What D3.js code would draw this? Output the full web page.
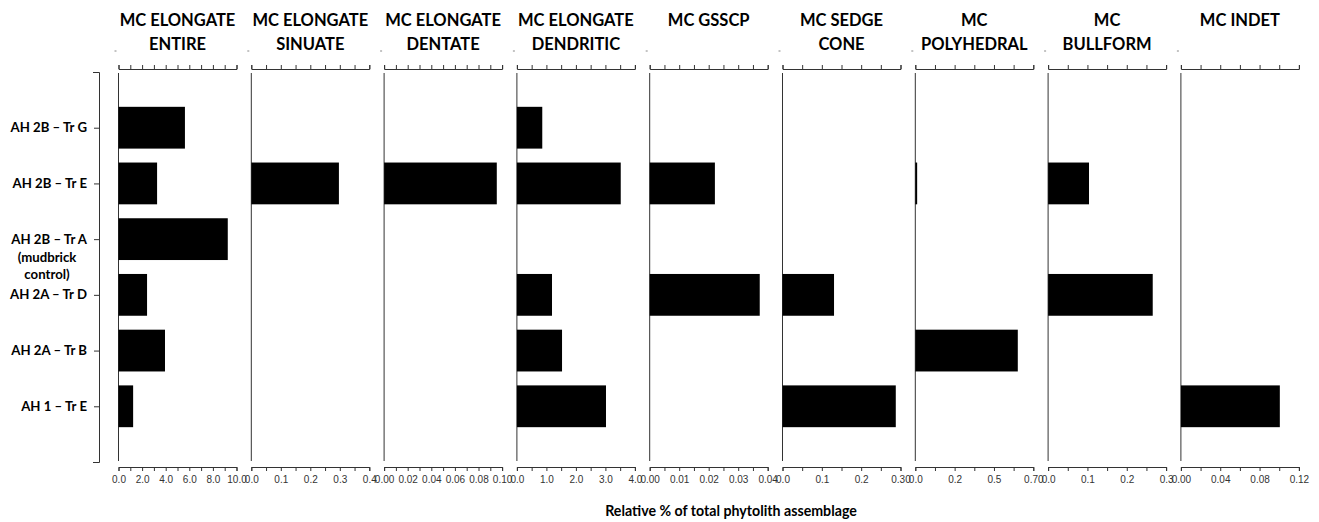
<!DOCTYPE html>
<html>
<head>
<meta charset="utf-8">
<script src="https://cdn.jsdelivr.net/npm/d3@7"></script>
<style>
  html, body { margin: 0; padding: 0; background: #fff; }
  svg { display: block; }
  .panel-title { font-family: Lato, "Open Sans", sans-serif; font-weight: 700; font-size: 16.5px; fill: #000; }
  .sample-label { font-family: Lato, "Open Sans", sans-serif; font-weight: 700; font-size: 13.2px; fill: #000; }
  .axis-title { font-family: Lato, "Open Sans", sans-serif; font-weight: 700; font-size: 14.2px; fill: #000; }
  .tick text { font-family: "Liberation Sans", Arial, sans-serif; font-size: 10px; fill: #333; }
  .domain, .tick line { stroke: #333; stroke-width: 1; }
</style>
</head>
<body>
<svg id="chart" width="1319" height="522"></svg>
<script>
// Samples (rows, top to bottom)
const samples = ["AH 2B – Tr G", "AH 2B – Tr E", "AH 2B – Tr A", "AH 2A – Tr D", "AH 2A – Tr B", "AH 1 – Tr E"];
const sampleNotes = ["", "", "(mudbrick|control)", "", "", ""];

// Phytolith morphotypes (one panel each)
const panelTitles = [
  ["MC ELONGATE", "ENTIRE"],
  ["MC ELONGATE", "SINUATE"],
  ["MC ELONGATE", "DENTATE"],
  ["MC ELONGATE", "DENDRITIC"],
  ["MC GSSCP"],
  ["MC SEDGE", "CONE"],
  ["MC", "POLYHEDRAL"],
  ["MC", "BULLFORM"],
  ["MC INDET"]
];

// Relative % of total phytolith assemblage, per sample (null = absent)
const elongateEntire    = [5.63, 3.27, 9.26, 2.42, 3.94, 1.24];
const elongateSinuate   = [null, 0.297, null, null, null, null];
const elongateDentate   = [null, 0.0955, null, null, null, null];
const elongateDendritic = [0.86, 3.52, null, 1.19, 1.53, 3.02];
const gsscp             = [null, 0.0221, null, 0.0373, null, null];
const sedgeCone         = [null, null, null, 0.131, null, 0.288];
const polyhedral        = [null, 0.011, null, null, 0.608, null];
const bullform          = [null, 0.104, null, 0.266, null, null];
const indet             = [null, null, null, null, null, 0.1006];

const panelValues = [elongateEntire, elongateSinuate, elongateDentate, elongateDendritic,
                     gsscp, sedgeCone, polyhedral, bullform, indet];

// Axis maxima, number of tick intervals, and labels shown on every other tick
const axisMax    = [10, 0.4, 0.10, 4, 0.04, 0.3, 0.7, 0.3, 0.12];
const tickSteps  = [10, 8, 10, 8, 8, 6, 6, 6, 6];
const tickLabels = [
  ["0.0", "2.0", "4.0", "6.0", "8.0", "10.0"],
  ["0.0", "0.1", "0.2", "0.3", "0.4"],
  ["0.00", "0.02", "0.04", "0.06", "0.08", "0.10"],
  ["0.0", "1.0", "2.0", "3.0", "4.0"],
  ["0.00", "0.01", "0.02", "0.03", "0.04"],
  ["0.0", "0.1", "0.2", "0.30"],
  ["0.0", "0.2", "0.5", "0.70"],
  ["0.0", "0.1", "0.2", "0.3"],
  ["0.00", "0.04", "0.08", "0.12"]
];

const svg = d3.select("#chart");

// Layout
const firstPanelX = 118.5;
const panelStep = 132.8;
const panelWidth = 118;
const plotTop = 72, plotBottom = 462;
const topAxisY = 69, bottomAxisY = 467;

const y = d3.scalePoint().domain(samples).range([plotTop, plotBottom]).padding(1);
const barH = y.step() * 0.75;

// Sample axis (left bracket)
svg.append("g").attr("transform", "translate(99,0)")
  .call(d3.axisLeft(y).tickSize(5).tickSizeOuter(6).tickFormat(""));

samples.forEach((s, i) => {
  const cy = y(s);
  svg.append("text").attr("class", "sample-label")
    .attr("x", 87).attr("y", cy).attr("dy", "0.35em")
    .attr("text-anchor", "end").text(s);
  if (sampleNotes[i]) {
    sampleNotes[i].split("|").forEach((line, k) => {
      svg.append("text").attr("class", "sample-label")
        .attr("x", 47).attr("y", cy + 18 + k * 17).attr("dy", "0.35em")
        .attr("text-anchor", "middle").text(line);
    });
  }
});

panelTitles.forEach((title, p) => {
  const x0 = firstPanelX + p * panelStep;
  const x = d3.scaleLinear().domain([0, axisMax[p]]).range([x0, x0 + panelWidth]);
  const ticks = d3.range(tickSteps[p] + 1).map(k => axisMax[p] * k / tickSteps[p]);
  const g = svg.append("g");

  // Title
  title.forEach((line, k) => {
    g.append("text").attr("class", "panel-title")
      .attr("x", x0 + panelWidth / 2).attr("y", 20 + k * 24).attr("dy", "0.35em")
      .attr("text-anchor", "middle").text(line);
  });

  // Small marker left of the top axis
  g.append("line")
    .attr("x1", x0 - 4).attr("x2", x0 - 2)
    .attr("y1", 51).attr("y2", 51)
    .attr("stroke", "#888").attr("stroke-width", 1);

  // Top axis (ticks only)
  g.append("g").attr("transform", `translate(0,${topAxisY})`)
    .call(d3.axisTop(x).tickValues(ticks).tickSize(4).tickSizeOuter(4).tickFormat(""));

  // Bottom axis with labels on alternate ticks
  g.append("g").attr("transform", `translate(0,${bottomAxisY})`)
    .call(d3.axisBottom(x).tickValues(ticks).tickSize(4).tickSizeOuter(4).tickPadding(5)
      .tickFormat((d, i) => i % 2 === 0 ? tickLabels[p][i / 2] : ""));

  // Baseline
  g.append("line")
    .attr("x1", x(0)).attr("x2", x(0))
    .attr("y1", plotTop + 1).attr("y2", plotBottom - 1)
    .attr("stroke", "#333").attr("stroke-width", 1);

  // Bars
  const rows = samples.map((s, i) => ({ s, v: panelValues[p][i] })).filter(d => d.v != null);
  g.selectAll("rect.bar").data(rows).join("rect")
    .attr("class", "bar")
    .attr("x", x(0))
    .attr("y", d => y(d.s) - barH / 2)
    .attr("width", d => x(d.v) - x(0))
    .attr("height", barH)
    .attr("fill", "#000");
});

svg.append("text").attr("class", "axis-title")
  .attr("x", 731).attr("y", 511).attr("dy", "0.35em")
  .attr("text-anchor", "middle").text("Relative % of total phytolith assemblage");
</script>
</body>
</html>
